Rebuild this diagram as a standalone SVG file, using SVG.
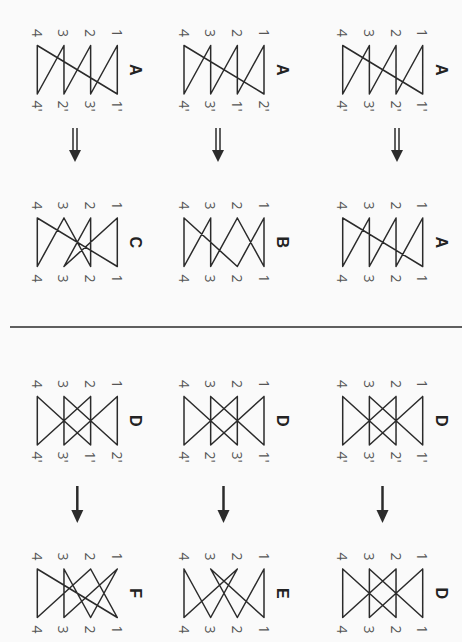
<svg xmlns="http://www.w3.org/2000/svg" width="462" height="642" viewBox="0 0 462 642">
<style>
.bg{fill:#fafafa}
.e{stroke:#2b2b2b;stroke-width:1.5;fill:none;stroke-linecap:round}
.n{font-family:"Open Sans","Liberation Sans",sans-serif;font-size:14px;fill:#555}
.l{font-family:"Liberation Sans",sans-serif;font-size:16px;font-weight:bold;fill:#222}
.sh{stroke:#2b2b2b;stroke-width:1.5;fill:none}
.hd{fill:#2b2b2b}
</style>
<defs>
<g id="geoA">
<path class="e" d="M80 0V48.5M53.33 0V48.5M26.67 0V48.5M0 0V48.5M80 0L53.33 48.5M53.33 0L26.67 48.5M26.67 0L0 48.5M0 0L80 48.5"/>
</g>
<g id="geoD">
<path class="e" d="M80 0V48.5M53.33 0V48.5M26.67 0V48.5M0 0V48.5M0 0L53.33 48.5M0 48.5L53.33 0M26.67 0L80 48.5M26.67 48.5L80 0"/>
</g>
<g id="top">
<text class="n" x="80" y="-12.5" transform="rotate(90 80 -12.5)" text-anchor="middle" dominant-baseline="central">1</text>
<text class="n" x="53.33" y="-12.5" transform="rotate(90 53.33 -12.5)" text-anchor="middle" dominant-baseline="central">2</text>
<text class="n" x="26.67" y="-12.5" transform="rotate(90 26.67 -12.5)" text-anchor="middle" dominant-baseline="central">3</text>
<text class="n" x="0" y="-12.5" transform="rotate(90 0 -12.5)" text-anchor="middle" dominant-baseline="central">4</text>
</g>
<g id="bot">
<text class="n" x="80" y="60.5" transform="rotate(90 80 60.5)" text-anchor="middle" dominant-baseline="central">1</text>
<text class="n" x="53.33" y="60.5" transform="rotate(90 53.33 60.5)" text-anchor="middle" dominant-baseline="central">2</text>
<text class="n" x="26.67" y="60.5" transform="rotate(90 26.67 60.5)" text-anchor="middle" dominant-baseline="central">3</text>
<text class="n" x="0" y="60.5" transform="rotate(90 0 60.5)" text-anchor="middle" dominant-baseline="central">4</text>
</g>
</defs>
<rect class="bg" x="0" y="0" width="462" height="642"/>

<!-- Row 1: A diagrams -->
<g id="nodeA1" transform="translate(342.7 45.5)">
<use href="#geoA"/><use href="#top"/>
<text class="n" x="80" y="60.5" transform="rotate(90 80 60.5)" text-anchor="middle" dominant-baseline="central">1'</text>
<text class="n" x="53.33" y="60.5" transform="rotate(90 53.33 60.5)" text-anchor="middle" dominant-baseline="central">2'</text>
<text class="n" x="26.67" y="60.5" transform="rotate(90 26.67 60.5)" text-anchor="middle" dominant-baseline="central">3'</text>
<text class="n" x="0" y="60.5" transform="rotate(90 0 60.5)" text-anchor="middle" dominant-baseline="central">4'</text>
<text class="l" x="98.5" y="24.25" transform="rotate(90 98.5 24.25)" text-anchor="middle" dominant-baseline="central">A</text>
</g>
<g id="nodeA2" transform="translate(184 45.5)">
<use href="#geoA"/><use href="#top"/>
<text class="n" x="80" y="60.5" transform="rotate(90 80 60.5)" text-anchor="middle" dominant-baseline="central">2'</text>
<text class="n" x="53.33" y="60.5" transform="rotate(90 53.33 60.5)" text-anchor="middle" dominant-baseline="central">1'</text>
<text class="n" x="26.67" y="60.5" transform="rotate(90 26.67 60.5)" text-anchor="middle" dominant-baseline="central">3'</text>
<text class="n" x="0" y="60.5" transform="rotate(90 0 60.5)" text-anchor="middle" dominant-baseline="central">4'</text>
<text class="l" x="98.5" y="24.25" transform="rotate(90 98.5 24.25)" text-anchor="middle" dominant-baseline="central">A</text>
</g>
<g id="nodeA3" transform="translate(37.3 45.5)">
<use href="#geoA"/><use href="#top"/>
<text class="n" x="80" y="60.5" transform="rotate(90 80 60.5)" text-anchor="middle" dominant-baseline="central">1'</text>
<text class="n" x="53.33" y="60.5" transform="rotate(90 53.33 60.5)" text-anchor="middle" dominant-baseline="central">3'</text>
<text class="n" x="26.67" y="60.5" transform="rotate(90 26.67 60.5)" text-anchor="middle" dominant-baseline="central">2'</text>
<text class="n" x="0" y="60.5" transform="rotate(90 0 60.5)" text-anchor="middle" dominant-baseline="central">4'</text>
<text class="l" x="98.5" y="24.25" transform="rotate(90 98.5 24.25)" text-anchor="middle" dominant-baseline="central">A</text>
</g>

<!-- Row 2: results A, B, C -->
<g id="nodeRA" transform="translate(342.7 218)">
<use href="#geoA"/><use href="#top"/><use href="#bot"/>
<text class="l" x="98.5" y="24.25" transform="rotate(90 98.5 24.25)" text-anchor="middle" dominant-baseline="central">A</text>
</g>
<g id="nodeB" transform="translate(184 218)">
<path class="e" d="M80 0V48.5M80 0L53.33 48.5M53.33 0L80 48.5M53.33 0L26.67 48.5M26.67 0V48.5M26.67 0L0 48.5M0 0V48.5M0 0L53.33 48.5"/>
<use href="#top"/><use href="#bot"/>
<text class="l" x="98.5" y="24.25" transform="rotate(90 98.5 24.25)" text-anchor="middle" dominant-baseline="central">B</text>
</g>
<g id="nodeC" transform="translate(37.3 218)">
<path class="e" d="M80 0V48.5M80 0L26.67 48.5M53.33 0V48.5M53.33 0L26.67 48.5M26.67 0L53.33 48.5M26.67 0L0 48.5M0 0V48.5M0 0L80 48.5"/>
<use href="#top"/><use href="#bot"/>
<text class="l" x="98.5" y="24.25" transform="rotate(90 98.5 24.25)" text-anchor="middle" dominant-baseline="central">C</text>
</g>

<!-- Row 3: D diagrams -->
<g id="nodeD1" transform="translate(342.7 396.5)">
<use href="#geoD"/><use href="#top"/>
<text class="n" x="80" y="60.5" transform="rotate(90 80 60.5)" text-anchor="middle" dominant-baseline="central">1'</text>
<text class="n" x="53.33" y="60.5" transform="rotate(90 53.33 60.5)" text-anchor="middle" dominant-baseline="central">2'</text>
<text class="n" x="26.67" y="60.5" transform="rotate(90 26.67 60.5)" text-anchor="middle" dominant-baseline="central">3'</text>
<text class="n" x="0" y="60.5" transform="rotate(90 0 60.5)" text-anchor="middle" dominant-baseline="central">4'</text>
<text class="l" x="98.5" y="24.25" transform="rotate(90 98.5 24.25)" text-anchor="middle" dominant-baseline="central">D</text>
</g>
<g id="nodeD2" transform="translate(184 396.5)">
<use href="#geoD"/><use href="#top"/>
<text class="n" x="80" y="60.5" transform="rotate(90 80 60.5)" text-anchor="middle" dominant-baseline="central">1'</text>
<text class="n" x="53.33" y="60.5" transform="rotate(90 53.33 60.5)" text-anchor="middle" dominant-baseline="central">3'</text>
<text class="n" x="26.67" y="60.5" transform="rotate(90 26.67 60.5)" text-anchor="middle" dominant-baseline="central">2'</text>
<text class="n" x="0" y="60.5" transform="rotate(90 0 60.5)" text-anchor="middle" dominant-baseline="central">4'</text>
<text class="l" x="98.5" y="24.25" transform="rotate(90 98.5 24.25)" text-anchor="middle" dominant-baseline="central">D</text>
</g>
<g id="nodeD3" transform="translate(37.3 396.5)">
<use href="#geoD"/><use href="#top"/>
<text class="n" x="80" y="60.5" transform="rotate(90 80 60.5)" text-anchor="middle" dominant-baseline="central">2'</text>
<text class="n" x="53.33" y="60.5" transform="rotate(90 53.33 60.5)" text-anchor="middle" dominant-baseline="central">1'</text>
<text class="n" x="26.67" y="60.5" transform="rotate(90 26.67 60.5)" text-anchor="middle" dominant-baseline="central">3'</text>
<text class="n" x="0" y="60.5" transform="rotate(90 0 60.5)" text-anchor="middle" dominant-baseline="central">4'</text>
<text class="l" x="98.5" y="24.25" transform="rotate(90 98.5 24.25)" text-anchor="middle" dominant-baseline="central">D</text>
</g>

<!-- Row 4: results D, E, F -->
<g id="nodeRD" transform="translate(342.7 569)">
<use href="#geoD"/><use href="#top"/><use href="#bot"/>
<text class="l" x="98.5" y="24.25" transform="rotate(90 98.5 24.25)" text-anchor="middle" dominant-baseline="central">D</text>
</g>
<g id="nodeE" transform="translate(184 569)">
<path class="e" d="M80 0V48.5M80 0L53.33 48.5M53.33 0L26.67 48.5M53.33 0L0 48.5M26.67 0L80 48.5M26.67 0L53.33 48.5M0 0V48.5M0 0L26.67 48.5"/>
<use href="#top"/><use href="#bot"/>
<text class="l" x="98.5" y="24.25" transform="rotate(90 98.5 24.25)" text-anchor="middle" dominant-baseline="central">E</text>
</g>
<g id="nodeF" transform="translate(37.3 569)">
<path class="e" d="M80 0L53.33 48.5M80 0L26.67 48.5M53.33 0L80 48.5M53.33 0L0 48.5M26.67 0V48.5M26.67 0L53.33 48.5M0 0V48.5M0 0L80 48.5"/>
<use href="#top"/><use href="#bot"/>
<text class="l" x="98.5" y="24.25" transform="rotate(90 98.5 24.25)" text-anchor="middle" dominant-baseline="central">F</text>
</g>

<g id="connectors">
<path class="sh" d="M395 128V151M399 128V151"/>
<polygon class="hd" points="391,150 403,150 397,162"/>
<path class="sh" d="M216 128V151M220 128V151"/>
<polygon class="hd" points="212,150 224,150 218,162"/>
<path class="sh" d="M73 128V151M77 128V151"/>
<polygon class="hd" points="69,150 81,150 75,162"/>
<path class="sh" d="M382.5 486V511" style="stroke-width:2.5"/>
<polygon class="hd" points="376.5,510 388.5,510 382.5,523"/>
<path class="sh" d="M223.5 486V511" style="stroke-width:2.5"/>
<polygon class="hd" points="217.5,510 229.5,510 223.5,523"/>
<path class="sh" d="M77.3 486V511" style="stroke-width:2.5"/>
<polygon class="hd" points="71.3,510 83.3,510 77.3,523"/>
</g>
<line x1="10" y1="327" x2="462" y2="327" stroke="#2b2b2b" stroke-width="1.5"/>
</svg>
